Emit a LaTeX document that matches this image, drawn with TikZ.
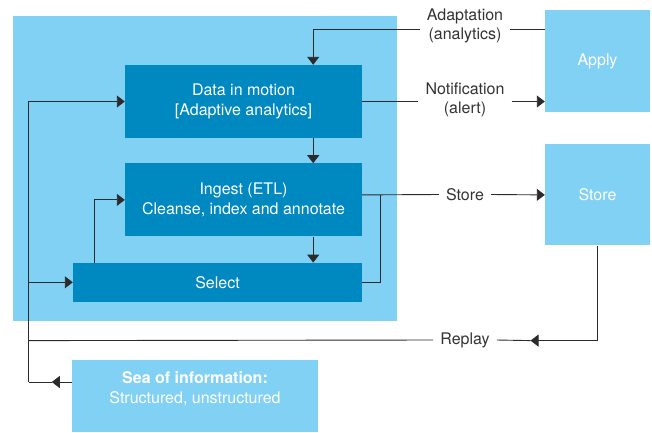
\documentclass[tikz,border=0pt]{standalone}
\usepackage{fontspec}
\setmainfont{TeX Gyre Heros}
\usetikzlibrary{positioning,calc,arrows.meta}
\definecolor{lightblue}{HTML}{81D1F5}
\definecolor{darkblue}{HTML}{0088C1}
\definecolor{linegray}{HTML}{2B2B2B}
\definecolor{labelgray}{HTML}{333333}
\tikzset{
  box/.style={fill=darkblue, text=white, align=center, inner sep=0pt},
  pale/.style={fill=lightblue, text=white, align=center, inner sep=0pt},
  lbl/.style={text=labelgray, align=center, inner xsep=7pt, inner ysep=0pt},
  line/.style={draw=linegray, line width=0.9pt},
  arr/.style={line, -{Triangle[length=8pt,width=12pt]}},
}
\begin{document}
\begin{tikzpicture}[x=1pt, y=-1pt, font=\fontsize{16}{19.5}\selectfont]
\useasboundingbox (0,0) rectangle (652,432);
\node[pale, minimum width=384pt, minimum height=305pt] (bg) at (205,168.5) {};
\node[box, minimum width=237pt, minimum height=73pt] (data) at (243.5,101.5) {Data in motion\\{[}Adaptive analytics{]}};
\node[box, minimum width=237pt, minimum height=73pt, below=25pt of data] (ingest) {Ingest (ETL)\\Cleanse, index and annotate};
\node[box, minimum width=289pt, minimum height=39pt, anchor=north east] (select) at ($(ingest.south east)+(0,26)$) {Select};
\node[pale, minimum width=105pt, minimum height=102pt] (apply) at (597.5,61) {Apply};
\node[pale, minimum width=105pt, minimum height=101pt, below=32pt of apply] (store) {Store};
\node[pale, minimum width=246pt, minimum height=72pt, anchor=north] (sea) at (195,360) {\textbf{Sea of information:}\\Structured, unstructured\\[-2pt]\mbox{}};
% labels on the lines
\node[lbl] (adapt) at (465,26) {Adaptation\\(analytics)};
\node[lbl] (notif) at (465,100) {Notification\\(alert)};
\node[lbl] (storelbl) at (465,194.5) {Store};
\node[lbl] (replay) at (465,340) {Replay};
% free ends
\coordinate (aw) at ($(apply.north west)+(0,20)$);
\coordinate (rtip) at ($(store.south)+(-67,95)$);
\coordinate (seaout) at ($(sea.north west)+(0,22)$);
\coordinate (seatip) at ($(seaout)+(-20,0)$);
\coordinate (spine) at ($(seaout)+(-43,0)$);
\coordinate (join) at ($(store.west -| ingest.east)+(18,0)$);
% adaptation and notification
\draw[line] (aw) -- (aw -| adapt.east);
\draw[arr] (aw -| adapt.west) -| ($(data.north east)+(-49,0)$);
\draw[line] (data.east) -- (data.east -| notif.west);
\draw[arr] (data.east -| notif.east) -- (data.east -| apply.west);
% inside the stream
\draw[arr] ($(data.south east)+(-49,0)$) -- ($(ingest.north east)+(-49,0)$);
\draw[arr] ($(ingest.south east)+(-49,0)$) -- ($(select.north east)+(-49,0)$);
\draw[arr] ($(select.north west)+(22,0)$) |- (ingest.west);
% store
\draw[line] (store.west -| ingest.east) -- (storelbl.west);
\draw[arr] (storelbl.east) -- (store.west);
\draw[line] (select.east) -| (join);
% replay and the loop back
\draw[arr] (store.south) |- (rtip);
\draw[line] (rtip) -- (replay.east);
\draw[line] (replay.west) -- (spine |- rtip);
\draw[arr] (seaout) -- (seatip);
\draw[line] (seatip) -- (spine);
\draw[arr] (spine) |- (data.west);
\draw[arr] (spine |- select.west) -- (select.west);
\end{tikzpicture}
\end{document}
